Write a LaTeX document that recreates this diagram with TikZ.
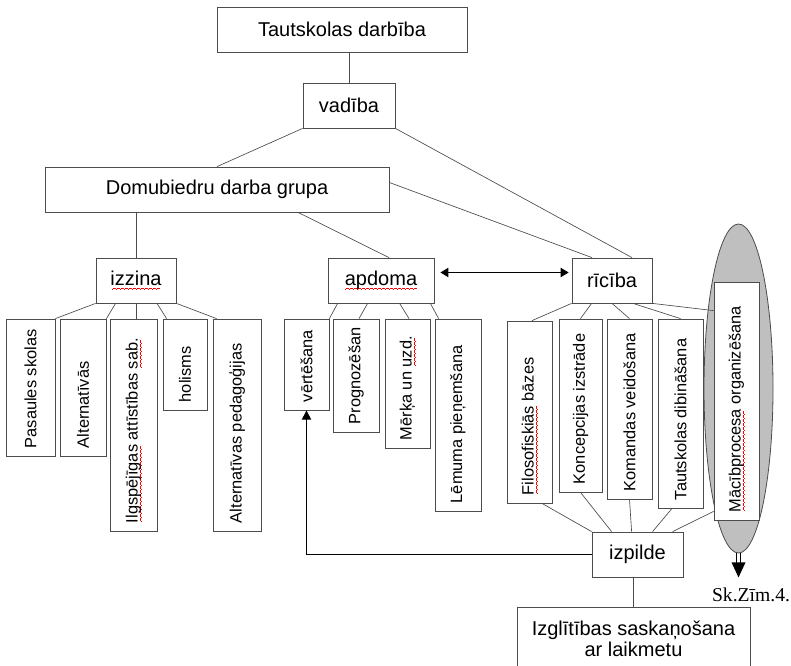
\documentclass[tikz,border=0pt]{standalone}
\usepackage{fontspec}
\setmainfont{Liberation Sans}
\newfontfamily\notefont{Liberation Serif}
\usetikzlibrary{calc,arrows.meta,shapes.geometric}
\newdimen\pxu \pxu=0.75pt
\newsavebox\sperrword
\newcommand\wavebit{\rule[-2.9pt]{0.75pt}{0.45pt}\rule[-2.45pt]{0.75pt}{0.45pt}\rule[-2.0pt]{0.75pt}{0.45pt}\rule[-2.45pt]{0.75pt}{0.45pt}}
\newcommand\sperr[1]{\sbox\sperrword{#1}\rlap{\textcolor{red}{\hbox to \wd\sperrword{\cleaders\hbox{\wavebit}\hfil}}}\usebox\sperrword}
\def\colbox(#1)(#2,#3)(#4,#5)#6{%
	\node[colframe, minimum width={(#4-#2)*\pxu}, minimum height={(#5-#3)*\pxu}] (#1) at ({(#2+#4)/2},{(#3+#5)/2}) {};
	\node[coltext] (#1-t) at ($(#1.south)+(0,-8)$) {#6};}
\tikzset{
	plainbox/.style={draw=black!70, line width=0.6pt, inner sep=0pt, minimum height=45*\pxu, align=center, font=\fontsize{15}{16}\selectfont},
	colframe/.style={draw=black!70, line width=0.6pt, inner sep=0pt, fill=white},
	coltext/.style={rotate=90, anchor=west, inner sep=0pt, font=\fontsize{12.3}{14}\selectfont},
	conn/.style={draw=black!70, line width=0.5pt},
	arr/.style={black, line width=0.8pt, -{Triangle[length=7pt,width=7pt]}},
	arrboth/.style={black, line width=0.8pt, {Triangle[length=6pt,width=7pt]}-{Triangle[length=6pt,width=7pt]}},
}

\begin{document}
\begin{tikzpicture}[x=0.75pt, y=-0.75pt]
		%%%%% START %%%%%
		\useasboundingbox (0,0) rectangle (791,666);
		
		\node[plainbox, minimum width=250*\pxu] (taut) at (342,29.5) {Tautskolas darbība};
		\node[plainbox, minimum width=92*\pxu] (vad) at (349,105.5) {vadība};
		\node[plainbox, minimum width=344*\pxu] (dom) at (217,189.5) {Domubiedru darba grupa};
		\node[plainbox, minimum width=80*\pxu] (izz) at (136,280.5) {\sperr{izzina}};
		\node[plainbox, minimum width=106*\pxu] (apd) at (381,280.5) {\sperr{apdoma}};
		\node[plainbox, minimum width=80*\pxu] (ric) at (612,280.5) {rīcība};
		
		\draw[conn] (vad.north) -- (vad.north |- taut.south);
		\draw[conn] (vad.south west) -- (dom.north);
		\draw[conn] (vad.south east) -- ($(ric.north)+(20,0)$);
		\draw[conn] ($(dom.east)+(0,-7)$) -- ($(ric.north)+(-20,0)$);
		\draw[conn] (izz.north |- dom.south) -- (izz.north);
		\draw[conn] ($(dom.south)+(81,0)$) -- ($(apd.north)+(8,0)$);
		\draw[arrboth] ($(apd.east)+(6,-8)$) -- ($(ric.west)+(-3,-8)$);
		
		\colbox(pas)(6,319)(55,456){Pasaules skolas}
		\colbox(alt)(60,319)(106,456){Alternatīvās}
		\colbox(ilg)(110,319)(157,531){\sperr{Ilgspējīgas} attīstības \sperr{sab.}}
		\colbox(hol)(163,319)(207,410){holisms}
		\colbox(alp)(213,319)(261,531){Alternatīvas pedagoģijas}
		
		\colbox(vert)(284,319)(329,410){vērtēšana}
		\colbox(prog)(333,319)(379,432){Prognozēšan}
		\colbox(merk)(385,319)(430,448){Mērķa un \sperr{uzd.}}
		\colbox(lem)(435,319)(481,511){Lēmuma pieņemšana}
		
		\node[draw=black!70, line width=0.6pt, fill=black!25, ellipse, inner sep=0pt, minimum width=69*\pxu, minimum height=329*\pxu] (ovl) at (738.5,388.5) {};
		\colbox(fil)(507,321)(552,503){\sperr{Filosofiskiās} bāzes}
		\colbox(konc)(559,319)(602,492){Koncepcijas izstrāde}
		\colbox(kom)(607,319)(652,499){Komandas veidošana}
		\colbox(tdib)(658,319)(703,508){Tautskolas dibināšana}
		\colbox(proc)(714,282)(759,520){\sperr{Mācībprocesa} organizēšana}
		
		\draw[conn] (izz.south west) -- (pas.north east);
		\draw[conn] ($(izz.south west)+(20,0)$) -- (alt.north east);
		\draw[conn] (izz.south) -- (izz.south |- ilg.north);
		\draw[conn] ($(izz.south)+(21,0)$) -- ($(hol.north west)+(4,0)$);
		\draw[conn] (izz.south east) -- ($(alp.north west)+(4,0)$);
		
		\draw[conn] ($(apd.south west)+(10,0)$) -- (vert.north east);
		\draw[conn] ($(apd.south west)+(40,0)$) -- ($(prog.north)+(3,0)$);
		\draw[conn] ($(apd.south west)+(72,0)$) -- ($(merk.north)+(1.5,0)$);
		\draw[conn] ($(apd.south east)+(-4,0)$) -- ($(lem.north west)+(4,0)$);
		
		\draw[conn] (ric.south west) -- ($(fil.north)+(2.5,0)$);
		\draw[conn] ($(ric.south west)+(20,0)$) -- (konc.north);
		\draw[conn] (ric.south) -- (kom.north);
		\draw[conn] ($(ric.south)+(21,0)$) -- (tdib.north);
		\draw[conn] (ric.south east) -- ($(proc.north west)+(0,29)$);
		
		\node[plainbox, minimum width=91*\pxu] (izp) at (637.5,554.5) {izpilde};
		\node[plainbox, minimum width=233*\pxu, minimum height=63*\pxu] (izgl) at (633.5,638.5) {Izglītības saskaņošana\\ar laikmetu};
		
		\draw[conn] ($(fil.south)+(12.5,0)$) -- (izp.north west);
		\draw[conn] (konc.south) -- ($(izp.north west)+(20,0)$);
		\draw[conn] (kom.south) -- ($(izp.north west)+(40,0)$);
		\draw[conn] ($(tdib.south)+(-8.5,0)$) -- ($(izp.north west)+(61,0)$);
		\draw[conn] ($(proc.south west)+(0,-9)$) -- ($(izp.north west)+(81,0)$);
		\draw[conn] (izp.south -| izgl.north) -- (izgl.north);
		\draw[arr] (izp.west) -| (vert.south);
		
		\coordinate (ovl-end) at ($(ovl.south)+(0,24)$);
		\draw[black, line width=0.6pt] ($(ovl.south)+(-2,0)$) -- ++(0,10) ($(ovl.south)+(2,0)$) -- ++(0,10);
		\fill ($(ovl.south)+(-7,9)$) -- ($(ovl.south)+(7,9)$) -- (ovl-end) -- cycle;
		\node[inner sep=0pt, font=\notefont\fontsize{14.7}{16}\selectfont] (note) at (751,595) {Sk.Zīm.4.};
		
		%%%%% END %%%%%
\end{tikzpicture}
\end{document}
